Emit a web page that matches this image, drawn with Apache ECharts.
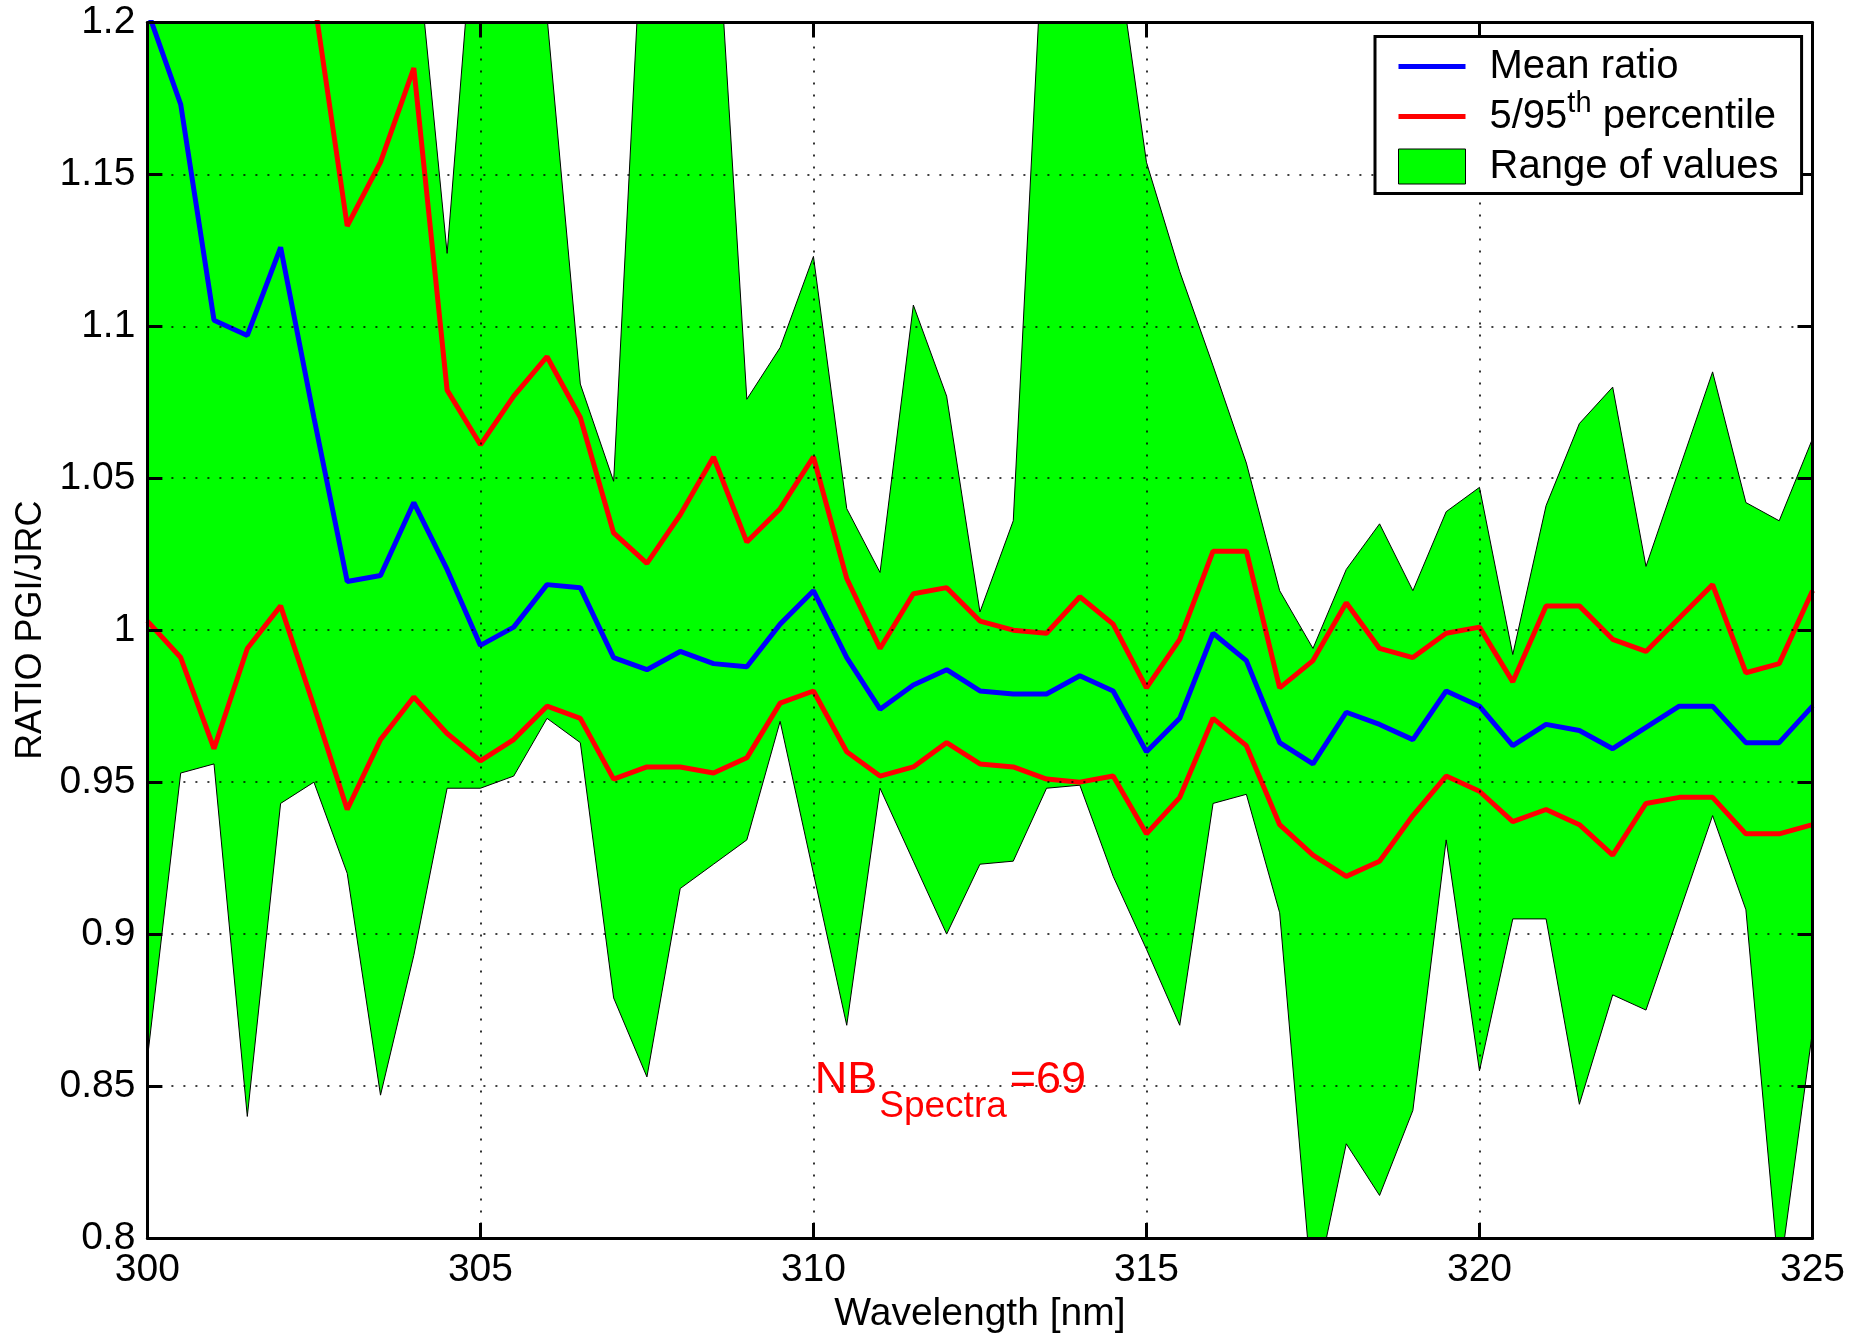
<!DOCTYPE html>
<html>
<head>
<meta charset="utf-8">
<script src="https://cdn.jsdelivr.net/npm/echarts@6/dist/echarts.min.js"></script>
<style>
html,body{margin:0;padding:0;background:#fff;}
#chart{width:1849px;height:1335px;}
</style>
</head>
<body>
<div id="chart"></div>
<script>
// ---------------- data ----------------
const wavelength = [300, 300.5, 301, 301.5, 302, 302.5, 303, 303.5, 304, 304.5,
  305, 305.5, 306, 306.5, 307, 307.5, 308, 308.5, 309, 309.5,
  310, 310.5, 311, 311.5, 312, 312.5, 313, 313.5, 314, 314.5,
  315, 315.5, 316, 316.5, 317, 317.5, 318, 318.5, 319, 319.5,
  320, 320.5, 321, 321.5, 322, 322.5, 323, 323.5, 324, 324.5, 325];

const rangeMax = [1.30, 1.32, 1.35, 1.30, 1.28, 1.30, 1.32, 1.30, 1.236, 1.124,
  1.262, 1.30, 1.202, 1.081, 1.049, 1.265, 1.28, 1.255, 1.076, 1.093,
  1.123, 1.040, 1.019, 1.107, 1.077, 1.006, 1.036, 1.253, 1.29, 1.232,
  1.154, 1.118, 1.087, 1.055, 1.013, 0.994, 1.020, 1.035, 1.013, 1.039,
  1.047, 0.992, 1.041, 1.068, 1.080, 1.021, 1.053, 1.085, 1.042, 1.036, 1.063];

const rangeMin = [0.859, 0.953, 0.956, 0.840, 0.943, 0.950, 0.920, 0.847, 0.893, 0.948,
  0.948, 0.952, 0.971, 0.963, 0.879, 0.853, 0.915, 0.923, 0.931, 0.970,
  0.920, 0.870, 0.948, 0.924, 0.900, 0.923, 0.924, 0.948, 0.949, 0.919,
  0.895, 0.870, 0.943, 0.946, 0.907, 0.779, 0.831, 0.814, 0.842, 0.931,
  0.855, 0.905, 0.905, 0.844, 0.880, 0.875, 0.907, 0.939, 0.908, 0.787, 0.868];

const pct95 = [1.30, 1.28, 1.26, 1.27, 1.25, 1.208, 1.133, 1.154, 1.185, 1.079,
  1.061, 1.077, 1.090, 1.070, 1.032, 1.022, 1.038, 1.057, 1.029, 1.040,
  1.057, 1.017, 0.994, 1.012, 1.014, 1.003, 1.000, 0.999, 1.011, 1.002,
  0.981, 0.997, 1.026, 1.026, 0.981, 0.990, 1.009, 0.994, 0.991, 0.999,
  1.001, 0.983, 1.008, 1.008, 0.997, 0.993, 1.004, 1.015, 0.986, 0.989, 1.013];

const pct5 = [1.003, 0.991, 0.961, 0.994, 1.008, 0.975, 0.941, 0.964, 0.978, 0.966,
  0.957, 0.964, 0.975, 0.971, 0.951, 0.955, 0.955, 0.953, 0.958, 0.976,
  0.980, 0.960, 0.952, 0.955, 0.963, 0.956, 0.955, 0.951, 0.950, 0.952,
  0.933, 0.945, 0.971, 0.962, 0.936, 0.926, 0.919, 0.924, 0.939, 0.952,
  0.947, 0.937, 0.941, 0.936, 0.926, 0.943, 0.945, 0.945, 0.933, 0.933, 0.936];

const meanRatio = [1.204, 1.173, 1.102, 1.097, 1.126, 1.070, 1.016, 1.018, 1.042, 1.020,
  0.995, 1.001, 1.015, 1.014, 0.991, 0.987, 0.993, 0.989, 0.988, 1.002,
  1.013, 0.991, 0.974, 0.982, 0.987, 0.980, 0.979, 0.979, 0.985, 0.980,
  0.960, 0.971, 0.999, 0.990, 0.963, 0.956, 0.973, 0.969, 0.964, 0.980,
  0.975, 0.962, 0.969, 0.967, 0.961, 0.968, 0.975, 0.975, 0.963, 0.963, 0.975];

const xTickLabels = ['300', '305', '310', '315', '320', '325'];
const yTickLabels = ['0.8', '0.85', '0.9', '0.95', '1', '1.05', '1.1', '1.15', '1.2'];
const nbSpectra = 69;

// ---------------- chart ----------------
const FONT = '"Liberation Sans", Arial, Helvetica, sans-serif';
const xMin = Number(xTickLabels[0]);
const xMax = Number(xTickLabels[xTickLabels.length - 1]);
const xInterval = Number(xTickLabels[1]) - xMin;
const yMin = Number(yTickLabels[0]);
const yMax = Number(yTickLabels[yTickLabels.length - 1]);
const yInterval = Math.round((Number(yTickLabels[1]) - yMin) * 1000) / 1000;

const pairs = arr => wavelength.map((x, i) => [x, arr[i]]);

const chart = echarts.init(document.getElementById('chart'), null, {renderer: 'canvas'});

const gridLine = {show: true, lineStyle: {color: '#000', width: 1.6, type: [2, 10], cap: 'butt'}};
const frameLine = {show: true, onZero: false, lineStyle: {color: '#000', width: 3}};
const innerTick = {show: true, inside: true, length: 15, lineStyle: {color: '#000', width: 3}};

// green band between min and max, drawn through the axis scales
function renderRange(params, api) {
  const upper = wavelength.map((x, i) => api.coord([x, rangeMax[i]]));
  const lower = wavelength.map((x, i) => api.coord([x, rangeMin[i]])).reverse();
  const cs = params.coordSys;
  return {
    type: 'polygon',
    shape: {points: upper.concat(lower)},
    style: {fill: '#00ff00', stroke: '#000', lineWidth: 1},
    clipPath: {type: 'rect', shape: {x: cs.x, y: cs.y, width: cs.width, height: cs.height}},
    silent: true
  };
}

chart.setOption({
  animation: false,
  backgroundColor: '#fff',
  textStyle: {fontFamily: FONT},
  grid: {left: 147.4, top: 22.4, right: 36.5, bottom: 97, containLabel: false, outerBoundsMode: 'none'},
  xAxis: [
    {
      type: 'value', position: 'bottom', min: xMin, max: xMax, interval: xInterval, z: 3,
      axisLine: frameLine, axisTick: innerTick,
      axisLabel: {show: true, margin: 13, color: '#000', fontSize: 39, fontFamily: FONT,
        formatter: v => xTickLabels[Math.round((v - xMin) / xInterval)] || ''},
      splitLine: gridLine,
      name: 'Wavelength [nm]', nameLocation: 'middle', nameGap: 52,
      nameTextStyle: {color: '#000', fontSize: 39, fontFamily: FONT}
    },
    {
      type: 'value', position: 'top', min: xMin, max: xMax, interval: xInterval, z: 3,
      axisLine: frameLine, axisTick: innerTick, axisLabel: {show: false}, splitLine: {show: false}
    }
  ],
  yAxis: [
    {
      type: 'value', position: 'left', min: yMin, max: yMax, interval: yInterval, z: 3,
      axisLine: frameLine, axisTick: innerTick,
      axisLabel: {show: true, margin: 12, color: '#000', fontSize: 39, fontFamily: FONT,
        formatter: v => yTickLabels[Math.round((v - yMin) / yInterval)] || ''},
      splitLine: gridLine,
      name: 'RATIO PGI/JRC', nameLocation: 'middle', nameRotate: 90, nameGap: 98,
      nameTextStyle: {color: '#000', fontSize: 36, fontFamily: FONT}
    },
    {
      type: 'value', position: 'right', min: yMin, max: yMax, interval: yInterval, z: 3,
      axisLine: frameLine, axisTick: innerTick, axisLabel: {show: false}, splitLine: {show: false}
    }
  ],
  legend: {
    orient: 'vertical', left: 1375, top: 36.5,
    padding: [3, 23, 0, 23], itemGap: -4, itemWidth: 67, itemHeight: 35,
    backgroundColor: '#fff', borderColor: '#000', borderWidth: 3, borderRadius: 0,
    selectedMode: false, z: 10,
    textStyle: {
      fontFamily: FONT, fontSize: 40, lineHeight: 54, color: '#000', padding: [0, 0, 0, 19],
      rich: {sup: {fontFamily: FONT, fontSize: 29, lineHeight: 10, verticalAlign: 'top', color: '#000'}}
    },
    formatter: name => name === '5/95th percentile' ? '5/95{sup|th} percentile' : name,
    data: [
      {name: 'Mean ratio', icon: 'path://M0,0H67V5H0Z', itemStyle: {color: '#0000ff', borderWidth: 0}},
      {name: '5/95th percentile', icon: 'path://M0,0H67V5H0Z', itemStyle: {color: '#ff0000', borderWidth: 0}},
      {name: 'Range of values', icon: 'rect', itemStyle: {color: '#00ff00', borderColor: '#000', borderWidth: 1}}
    ]
  },
  series: [
    {
      name: 'Range of values', type: 'custom', z: 1,
      data: [[wavelength[0], rangeMin[0]]],
      renderItem: renderRange,
      itemStyle: {color: '#00ff00'}
    },
    {
      name: '5/95th percentile', type: 'line', data: pairs(pct95), symbol: 'none', z: 2,
      lineStyle: {color: '#ff0000', width: 5}, itemStyle: {color: '#ff0000'}
    },
    {
      name: '5/95th percentile', type: 'line', data: pairs(pct5), symbol: 'none', z: 2,
      lineStyle: {color: '#ff0000', width: 5}, itemStyle: {color: '#ff0000'}
    },
    {
      name: 'Mean ratio', type: 'line', data: pairs(meanRatio), symbol: 'none', z: 2,
      lineStyle: {color: '#0000ff', width: 5}, itemStyle: {color: '#0000ff'}
    }
  ]
});

// ---------------- annotation NB_Spectra = 69 ----------------
(function () {
  const anchor = chart.convertToPixel({gridIndex: 0}, [310.02, 0.848]); // baseline-left of "NB"
  const ctx = document.createElement('canvas').getContext('2d');
  const mainSize = 45, subSize = 37;
  ctx.font = mainSize + 'px ' + FONT;
  const wNB = ctx.measureText('NB').width;
  ctx.font = subSize + 'px ' + FONT;
  const wSub = ctx.measureText('Spectra').width;
  const x0 = anchor[0], base = anchor[1];
  chart.setOption({
    graphic: [
      {type: 'text', x: x0, y: base - 0.25 * mainSize, z: 20,
        style: {text: 'NB', fill: '#ff0000', font: mainSize + 'px ' + FONT, align: 'left', verticalAlign: 'middle'}},
      {type: 'text', x: x0 + wNB + 2, y: base + 25 - 0.27 * subSize, z: 20,
        style: {text: 'Spectra', fill: '#ff0000', font: subSize + 'px ' + FONT, align: 'left', verticalAlign: 'middle'}},
      {type: 'text', x: x0 + wNB + 2 + wSub + 3, y: base - 0.25 * mainSize, z: 20,
        style: {text: '=' + nbSpectra, fill: '#ff0000', font: mainSize + 'px ' + FONT, align: 'left', verticalAlign: 'middle'}}
    ]
  });
})();
</script>
</body>
</html>
